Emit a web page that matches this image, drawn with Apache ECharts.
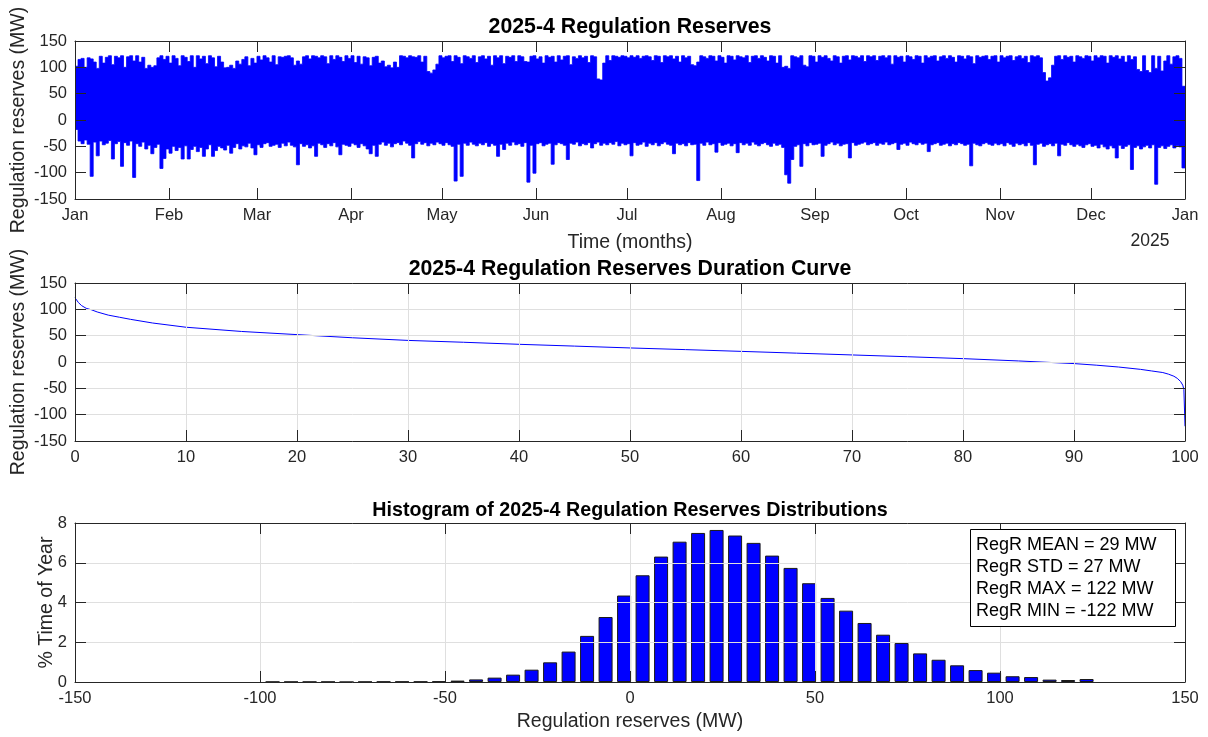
<!DOCTYPE html>
<html>
<head>
<meta charset="utf-8">
<script src="https://cdn.jsdelivr.net/npm/echarts@6/dist/echarts.min.js"></script>
<style>
html,body{margin:0;padding:0;background:#fff;}
#chart{width:1208px;height:737px;}
</style>
</head>
<body>
<div id="chart"></div>
<script>
// ---------- DATA ----------
const monthLabels = ['Jan','Feb','Mar','Apr','May','Jun','Jul','Aug','Sep','Oct','Nov','Dec','Jan'];
const monthStartDays = [0,31,60,91,121,152,182,213,244,274,305,335,366];
const yearLabel = '2025';

// Daily maximum of the hourly regulation reserves (MW)
const dailyMax = [
102,115,117,100,118,116,110,98,121,108,
119,122,105,121,118,122,100,120,122,112,
122,110,119,98,104,100,103,118,122,115,
121,108,122,117,103,122,119,111,122,100,
122,116,121,107,122,118,101,121,110,99,
100,104,98,112,106,115,120,103,117,108,
121,114,122,118,110,122,105,120,119,121,
122,118,104,112,106,120,122,116,122,121,
118,122,120,107,122,115,122,119,111,122,
117,122,109,121,106,120,118,103,119,121,
108,112,101,104,99,110,100,122,121,118,
122,120,119,122,110,121,92,89,95,106,
122,118,121,122,111,122,119,107,122,120,
117,122,109,120,122,116,121,104,122,118,
122,107,121,119,122,111,122,120,111,110,
121,122,116,120,108,122,119,121,110,122,
114,121,122,105,120,117,122,118,121,109,
122,120,78,76,108,122,113,122,121,119,
122,121,118,122,119,122,117,121,122,120,
113,122,121,109,122,120,122,116,121,110,
122,118,121,105,103,110,122,120,117,122,
121,112,122,119,108,122,121,114,122,120,
118,122,109,121,122,117,122,119,112,122,
121,108,122,100,102,98,122,120,118,122,
104,101,122,121,110,122,119,122,117,112,
122,120,108,121,122,114,122,121,118,122,
111,122,120,122,113,121,122,118,122,106,
122,119,121,110,122,120,115,122,121,108,
122,118,121,122,112,120,122,117,122,119,
110,122,121,116,122,120,107,122,119,121,
122,115,121,122,110,122,118,121,122,113,
120,122,117,121,109,122,120,122,118,90,
74,80,104,121,122,115,122,119,121,110,
122,120,117,122,121,112,122,118,122,121,
108,122,119,122,116,121,110,122,115,120,
96,92,122,94,90,122,98,121,93,112,
122,106,120,122,117,64
];
// Daily minimum of the hourly regulation reserves (MW)
const dailyMin = [
-18,-40,-45,-38,-46,-107,-42,-68,-40,-47,
-44,-39,-74,-45,-41,-88,-43,-48,-40,-109,
-45,-50,-42,-55,-48,-64,-52,-46,-92,-73,
-55,-63,-50,-58,-52,-74,-49,-74,-56,-50,
-60,-52,-69,-55,-47,-69,-58,-50,-53,-57,
-48,-63,-52,-45,-55,-49,-51,-44,-53,-66,
-47,-52,-45,-43,-50,-48,-46,-52,-44,-49,
-42,-48,-51,-85,-45,-50,-47,-53,-49,-69,
-44,-47,-52,-45,-49,-43,-51,-66,-46,-48,
-50,-44,-47,-52,-45,-49,-55,-64,-48,-69,
-46,-42,-48,-44,-51,-45,-43,-47,-40,-44,
-48,-72,-45,-41,-46,-43,-49,-44,-47,-42,
-45,-48,-43,-47,-50,-116,-46,-107,-44,-48,
-42,-46,-49,-44,-47,-43,-50,-45,-48,-69,
-46,-56,-44,-48,-42,-47,-45,-50,-43,-118,
-48,-101,-45,-43,-49,-46,-44,-84,-47,-43,
-45,-48,-75,-44,-46,-42,-49,-45,-47,-43,
-53,-45,-42,-48,-44,-47,-43,-46,-41,-49,
-44,-47,-45,-68,-43,-48,-46,-42,-50,-44,
-47,-43,-49,-45,-42,-46,-48,-64,-44,-47,
-45,-49,-43,-47,-46,-115,-44,-48,-42,-47,
-45,-61,-43,-48,-46,-44,-49,-45,-62,-43,
-47,-44,-48,-42,-46,-49,-45,-43,-47,-50,
-44,-48,-46,-52,-104,-120,-75,-50,-47,-88,
-45,-49,-43,-47,-46,-44,-69,-48,-45,-42,
-47,-44,-49,-46,-45,-72,-43,-48,-46,-44,
-42,-47,-45,-43,-48,-44,-46,-42,-47,-45,
-43,-56,-46,-44,-48,-42,-45,-47,-43,-46,
-44,-60,-47,-45,-43,-48,-46,-44,-49,-45,
-47,-43,-45,-48,-46,-87,-44,-47,-49,-45,
-43,-46,-48,-44,-47,-45,-49,-43,-46,-50,
-44,-47,-45,-49,-43,-48,-85,-46,-44,-50,
-47,-45,-49,-44,-68,-46,-48,-43,-47,-50,
-46,-49,-52,-47,-45,-50,-48,-53,-46,-51,
-55,-49,-53,-72,-48,-54,-50,-47,-94,-52,
-49,-55,-51,-48,-53,-47,-122,-52,-49,-54,
-50,-47,-53,-49,-51,-91
];

// Duration curve: percent of time exceeded vs. reserve level (MW)
const durationPct = [0,0.1,0.3,0.6,1,1.5,2,3,4,5,7,10,15,20,25,30,35,40,45,50,55,60,65,70,75,80,85,90,92,94,96,97,98,98.5,99,99.3,99.6,99.8,99.9,100];
const durationMW  = [122,121,113,107,102,99,95,89,85,81,74,66,58,52,46,41,37.5,33.6,30.2,26.7,23.5,20.2,16.8,13.4,10,6.4,2,-3,-6,-9.5,-14,-17,-20,-23,-27,-31,-37,-44,-52,-122];

// Histogram: bin centres (MW) and % of time of year
const binCenters = [-96.6,-91.6,-86.6,-81.6,-76.6,-71.6,-66.6,-61.6,-56.6,-51.6,-46.6,-41.6,-36.6,-31.6,-26.6,-21.6,-16.6,-11.6,-6.6,-1.6,3.4,8.4,13.4,18.4,23.4,28.4,33.4,38.4,43.4,48.4,53.4,58.4,63.4,68.4,73.4,78.4,83.4,88.4,93.4,98.4,103.4,108.4,113.4,118.4,123.4];
const binPercent = [0.01,0.01,0.01,0.01,0,0.01,0.02,0.02,0.02,0.03,0.07,0.13,0.22,0.37,0.62,0.99,1.53,2.32,3.27,4.35,5.37,6.31,7.06,7.50,7.65,7.37,7.00,6.36,5.74,4.97,4.23,3.59,2.97,2.38,1.96,1.44,1.12,0.84,0.60,0.47,0.29,0.25,0.12,0.10,0.15];

const statNames = ['MEAN','STD','MAX','MIN'];
const statValues = [29,27,122,-122];

// ---------- BUILD ----------
const FONT = '"Liberation Sans", Arial, Helvetica, sans-serif';
const AX = '#262626';
const GRIDC = '#dfdfdf';
const TICKFS = 16.5;
const NAMEFS = 19.5;

const dailyRange = dailyMax.map((v, i) => [i, v, dailyMin[i]]);
const durSeries = durationPct.map((p, i) => [p, durationMW[i]]);
const histSeries = binCenters.map((c, i) => [c, binPercent[i]]);
const statText = statNames.map((n, i) => 'RegR ' + n + ' = ' + statValues[i] + ' MW').join('\n');

const grids = [
  {left: 75, top: 41, width: 1110, height: 158, outerBoundsMode: 'none', containLabel: false},
  {left: 75, top: 283, width: 1110, height: 158, outerBoundsMode: 'none', containLabel: false},
  {left: 75, top: 523, width: 1110, height: 159, outerBoundsMode: 'none', containLabel: false}
];

function baseAxis(extra) {
  return Object.assign({
    type: 'value',
    nameMoveOverlap: false,
    axisLine: {show: true, onZero: false, lineStyle: {color: AX, width: 1}},
    axisTick: {show: true, inside: true, length: 11, lineStyle: {color: AX, width: 1}},
    axisLabel: {show: true, color: AX, fontSize: TICKFS, fontFamily: FONT, margin: 8},
    splitLine: {show: false},
    z: 10
  }, extra);
}
function mirror(a, pos) {
  const m = JSON.parse(JSON.stringify(a));
  m.position = pos;
  m.axisLabel = Object.assign({}, m.axisLabel, {show: false});
  m.splitLine = {show: false};
  delete m.name;
  return m;
}

const x0 = baseAxis({gridIndex: 0, min: 0, max: 366,
  axisTick: {show: true, inside: true, length: 11, lineStyle: {color: AX}, customValues: monthStartDays},
  axisLabel: {show: true, color: AX, fontSize: TICKFS, fontFamily: FONT, margin: 8,
    customValues: monthStartDays,
    formatter: v => monthLabels[monthStartDays.indexOf(Math.round(v))] || ''},
  name: 'Time (months)', nameLocation: 'middle', nameGap: 34,
  nameTextStyle: {color: AX, fontSize: NAMEFS, fontFamily: FONT}
});
x0.position = 'bottom';
const x1 = mirror(x0, 'top');
x1.axisLabel.customValues = monthStartDays;
x1.axisTick.customValues = monthStartDays;

const x2 = baseAxis({gridIndex: 1, min: 0, max: 100, interval: 10, position: 'bottom',
  splitLine: {show: true, lineStyle: {color: GRIDC, width: 1}}});
const x3 = mirror(x2, 'top');

const x4 = baseAxis({gridIndex: 2, min: -150, max: 150, interval: 50, position: 'bottom',
  splitLine: {show: true, lineStyle: {color: GRIDC, width: 1}},
  name: 'Regulation reserves (MW)', nameLocation: 'middle', nameGap: 30,
  nameTextStyle: {color: AX, fontSize: NAMEFS, fontFamily: FONT}});
const x5 = mirror(x4, 'top');

const yName = {name: 'Regulation reserves (MW)', nameLocation: 'middle', nameGap: 46,
  nameTextStyle: {color: AX, fontSize: NAMEFS, fontFamily: FONT}};
const y0 = baseAxis(Object.assign({gridIndex: 0, min: -150, max: 150, interval: 50, position: 'left'}, yName));
const y1 = mirror(y0, 'right');
const y2 = baseAxis(Object.assign({gridIndex: 1, min: -150, max: 150, interval: 50, position: 'left',
  splitLine: {show: true, lineStyle: {color: GRIDC, width: 1}}}, yName));
const y3 = mirror(y2, 'right');
const y4 = baseAxis({gridIndex: 2, min: 0, max: 8, interval: 2, position: 'left',
  splitLine: {show: true, lineStyle: {color: GRIDC, width: 1}},
  name: '% Time of Year', nameLocation: 'middle', nameGap: 18,
  nameTextStyle: {color: AX, fontSize: NAMEFS, fontFamily: FONT}});
const y5 = mirror(y4, 'right');

const titleStyle = {color: '#000', fontSize: 21.3, fontWeight: 'bold', fontFamily: FONT};

// Band of the hourly series: one filled outline through every day's max (top) and min (bottom)
function renderBand(params, api) {
  if (params.dataIndex !== 0) return null;
  const pts = [];
  for (let i = 0; i < dailyRange.length; i++) {
    pts.push(api.coord([dailyRange[i][0], dailyRange[i][1]]));
    pts.push(api.coord([dailyRange[i][0] + 1, dailyRange[i][1]]));
  }
  for (let i = dailyRange.length - 1; i >= 0; i--) {
    pts.push(api.coord([dailyRange[i][0] + 1, dailyRange[i][2]]));
    pts.push(api.coord([dailyRange[i][0], dailyRange[i][2]]));
  }
  return {type: 'polygon', shape: {points: pts}, style: {fill: '#0000ff', stroke: '#0000ff', lineWidth: 0.8}};
}

const option = {
  animation: false,
  backgroundColor: '#fff',
  textStyle: {fontFamily: FONT},
  title: [
    {text: '2025-4 Regulation Reserves', left: 630, top: 17, textAlign: 'center', padding: 0, textStyle: titleStyle},
    {text: '2025-4 Regulation Reserves Duration Curve', left: 630, top: 259, textAlign: 'center', padding: 0, textStyle: titleStyle},
    {text: 'Histogram of 2025-4 Regulation Reserves Distributions', left: 630, top: 501, textAlign: 'center', padding: 0,
      textStyle: Object.assign({}, titleStyle, {fontSize: 19.7})},
    {text: statText, left: 970, top: 529, padding: [5, 19, 5, 6], borderColor: '#000', borderWidth: 1, backgroundColor: '#fff', z: 30,
      textStyle: {color: '#000', fontSize: 18, fontWeight: 'normal', fontFamily: FONT, lineHeight: 22}}
  ],
  grid: grids,
  xAxis: [x0, x1, x2, x3, x4, x5],
  yAxis: [y0, y1, y2, y3, y4, y5],
  graphic: [
    {type: 'text', x: 1150, y: 241, style: {text: yearLabel, fill: AX, fontSize: 17.5, fontFamily: FONT, align: 'center', verticalAlign: 'middle'}}
  ],
  series: [
    {type: 'custom', xAxisIndex: 0, yAxisIndex: 0, data: dailyRange, encode: {x: 0, y: [1, 2]}, clip: true,
      renderItem: renderBand},
    {type: 'line', xAxisIndex: 2, yAxisIndex: 2, data: durSeries, showSymbol: false, symbol: 'none', smooth: false,
      lineStyle: {color: '#0000ff', width: 1}},
    {type: 'bar', xAxisIndex: 4, yAxisIndex: 4, data: histSeries, barWidth: 14,
      itemStyle: {color: '#0000ff', borderColor: '#1a1a1a', borderWidth: 1}}
  ]
};

const chart = echarts.init(document.getElementById('chart'), null, {renderer: 'canvas'});
chart.setOption(option);
</script>
</body>
</html>
